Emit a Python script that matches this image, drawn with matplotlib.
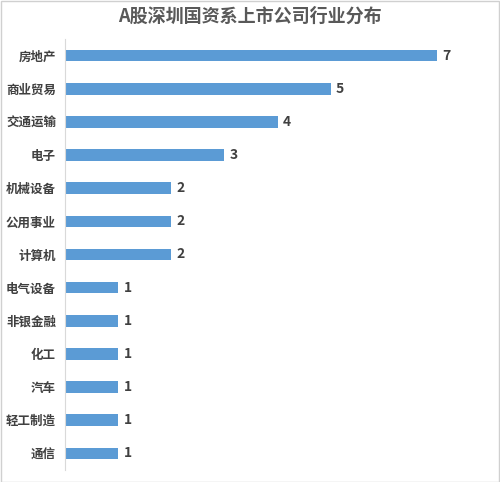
import matplotlib
matplotlib.use('Agg')
import matplotlib.pyplot as plt
from matplotlib.patches import Rectangle

plt.rcParams['font.family'] = ['Noto Sans CJK SC', 'DejaVu Sans']

industries = ['房地产', '商业贸易', '交通运输', '电子', '机械设备', '公用事业', '计算机',
              '电气设备', '非银金融', '化工', '汽车', '轻工制造', '通信']
counts = [7, 5, 4, 3, 2, 2, 2, 1, 1, 1, 1, 1, 1]

fig = plt.figure(figsize=(5, 4.82), dpi=100)
ax = fig.add_axes([0.13, 0.025, 0.85, 0.894])

pos = list(range(len(industries)))
ax.barh(pos, counts, height=0.35, color='#5B9BD5')
for p, c in zip(pos, counts):
    ax.text(c + 0.1, p, str(c), va='center', ha='left', fontsize=10,
            fontweight='bold', color='#404040')

ax.set_ylim(len(industries) - 0.5, -0.5)
ax.set_xlim(0, 8)
ax.set_yticks(pos)
ax.set_yticklabels(industries, fontsize=9, fontweight='bold', color='#404040')
ax.set_xticks([])
ax.tick_params(axis='y', length=0, pad=6.5)
for s in ['top', 'right', 'bottom']:
    ax.spines[s].set_visible(False)
ax.spines['left'].set_color('#D9D9D9')

fig.text(0.5, 0.967, 'A股深圳国资系上市公司行业分布', ha='center', va='center',
         fontsize=13, fontweight='bold', color='#595959')

fig.patches.append(Rectangle((0.001, 0.001), 0.996, 0.996, transform=fig.transFigure,
                             fill=False, edgecolor='#D0D0D0', linewidth=1))

fig.savefig('out.png', dpi=100, facecolor='white')
